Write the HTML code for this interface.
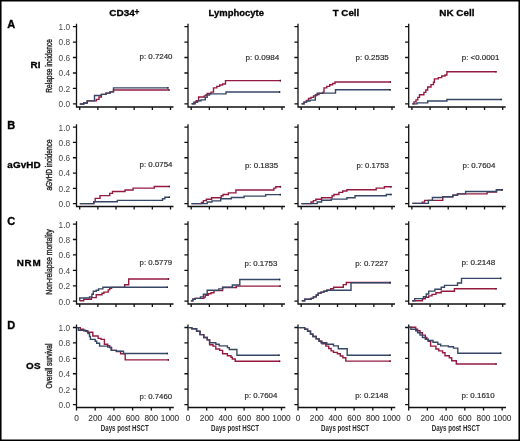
<!DOCTYPE html>
<html><head><meta charset="utf-8"><style>
html,body{margin:0;padding:0;background:#fff;overflow:hidden;}
svg{display:block;will-change:transform;}
text{font-family:"Liberation Sans", sans-serif;}
</style></head><body>
<svg width="520" height="441" viewBox="0 0 520 441">
<rect width="520" height="441" fill="#fff"/>
<rect x="0.75" y="0.7" width="518.5" height="439.6" fill="none" stroke="#000" stroke-width="1.6"/>
<text x="109.3" y="15.9" font-size="9.6" font-weight="bold" stroke="#000" stroke-width="0.3" textLength="25.5" lengthAdjust="spacingAndGlyphs">CD34</text>
<text x="208.6" y="15.9" font-size="9.6" font-weight="bold" stroke="#000" stroke-width="0.3" textLength="55.3" lengthAdjust="spacingAndGlyphs">Lymphocyte</text>
<text x="332.7" y="15.9" font-size="9.6" font-weight="bold" stroke="#000" stroke-width="0.3" textLength="26.6" lengthAdjust="spacingAndGlyphs">T Cell</text>
<text x="439.3" y="15.9" font-size="9.6" font-weight="bold" stroke="#000" stroke-width="0.3" textLength="35.2" lengthAdjust="spacingAndGlyphs">NK Cell</text>
<text x="134.5" y="14.6" font-size="8.4" font-weight="bold" stroke="#000" stroke-width="0.25">+</text>
<text x="7.3" y="27.7" font-size="11" font-weight="bold" stroke="#000" stroke-width="0.35">A</text>
<text x="7.3" y="128.5" font-size="11" font-weight="bold" stroke="#000" stroke-width="0.35">B</text>
<text x="7.3" y="225.2" font-size="11" font-weight="bold" stroke="#000" stroke-width="0.35">C</text>
<text x="7.3" y="328.8" font-size="11" font-weight="bold" stroke="#000" stroke-width="0.35">D</text>
<text x="30.6" y="67.8" font-size="9.9" font-weight="bold" stroke="#000" stroke-width="0.3" textLength="9.8" lengthAdjust="spacing">RI</text>
<text x="7.3" y="168.1" font-size="9.9" font-weight="bold" stroke="#000" stroke-width="0.3" textLength="33.4" lengthAdjust="spacing">aGvHD</text>
<text x="16.7" y="265.5" font-size="9.9" font-weight="bold" stroke="#000" stroke-width="0.3" textLength="24.0" lengthAdjust="spacing">NRM</text>
<text x="25.9" y="369.2" font-size="9.9" font-weight="bold" stroke="#000" stroke-width="0.3" textLength="14.8" lengthAdjust="spacing">OS</text>
<text transform="translate(52.3 65.9) rotate(-90)" x="0" y="0" font-size="8.6" text-anchor="middle" textLength="53.6" lengthAdjust="spacingAndGlyphs" fill="#2a2a2a" stroke="#2a2a2a" stroke-width="0.4">Relapse incidence</text>
<text transform="translate(52.3 165.0) rotate(-90)" x="0" y="0" font-size="8.6" text-anchor="middle" textLength="51.1" lengthAdjust="spacingAndGlyphs" fill="#2a2a2a" stroke="#2a2a2a" stroke-width="0.4">aGvHD incidence</text>
<text transform="translate(52.3 262.0) rotate(-90)" x="0" y="0" font-size="8.6" text-anchor="middle" textLength="65.3" lengthAdjust="spacingAndGlyphs" fill="#2a2a2a" stroke="#2a2a2a" stroke-width="0.4">Non-relapse mortality</text>
<text transform="translate(52.3 366.1) rotate(-90)" x="0" y="0" font-size="8.6" text-anchor="middle" textLength="44.9" lengthAdjust="spacingAndGlyphs" fill="#2a2a2a" stroke="#2a2a2a" stroke-width="0.4">Overall survival</text>
<text x="139.6" y="58.7" font-size="7.8" textLength="32.899999999999984" lengthAdjust="spacingAndGlyphs" fill="#2a2a2a" stroke="#2a2a2a" stroke-width="0.18">p: 0.7240</text>
<text x="245.6" y="59.7" font-size="7.8" textLength="33.80000000000002" lengthAdjust="spacingAndGlyphs" fill="#2a2a2a" stroke="#2a2a2a" stroke-width="0.18">p: 0.0984</text>
<text x="355.59999999999997" y="59.7" font-size="7.8" textLength="33.200000000000024" lengthAdjust="spacingAndGlyphs" fill="#2a2a2a" stroke="#2a2a2a" stroke-width="0.18">p: 0.2535</text>
<text x="461.8" y="59.7" font-size="7.8" textLength="37.6" lengthAdjust="spacingAndGlyphs" fill="#2a2a2a" stroke="#2a2a2a" stroke-width="0.18">p: &lt;0.0001</text>
<text x="139.6" y="167.0" font-size="7.8" textLength="32.899999999999984" lengthAdjust="spacingAndGlyphs" fill="#2a2a2a" stroke="#2a2a2a" stroke-width="0.18">p: 0.0754</text>
<text x="244.89999999999998" y="168.39999999999998" font-size="7.8" textLength="33.200000000000024" lengthAdjust="spacingAndGlyphs" fill="#2a2a2a" stroke="#2a2a2a" stroke-width="0.18">p: 0.1835</text>
<text x="356.5" y="168.0" font-size="7.8" textLength="32.29999999999999" lengthAdjust="spacingAndGlyphs" fill="#2a2a2a" stroke="#2a2a2a" stroke-width="0.18">p: 0.1753</text>
<text x="462.5" y="168.1" font-size="7.8" textLength="32.90000000000001" lengthAdjust="spacingAndGlyphs" fill="#2a2a2a" stroke="#2a2a2a" stroke-width="0.18">p: 0.7604</text>
<text x="139.6" y="265.0" font-size="7.8" textLength="32.50000000000001" lengthAdjust="spacingAndGlyphs" fill="#2a2a2a" stroke="#2a2a2a" stroke-width="0.18">p: 0.5779</text>
<text x="244.5" y="265.7" font-size="7.8" textLength="32.90000000000001" lengthAdjust="spacingAndGlyphs" fill="#2a2a2a" stroke="#2a2a2a" stroke-width="0.18">p: 0.1753</text>
<text x="355.2" y="265.5" font-size="7.8" textLength="32.90000000000001" lengthAdjust="spacingAndGlyphs" fill="#2a2a2a" stroke="#2a2a2a" stroke-width="0.18">p: 0.7227</text>
<text x="461.5" y="265.2" font-size="7.8" textLength="33.90000000000001" lengthAdjust="spacingAndGlyphs" fill="#2a2a2a" stroke="#2a2a2a" stroke-width="0.18">p: 0.2148</text>
<text x="139.6" y="399.3" font-size="7.8" textLength="32.50000000000001" lengthAdjust="spacingAndGlyphs" fill="#2a2a2a" stroke="#2a2a2a" stroke-width="0.18">p: 0.7460</text>
<text x="244.5" y="397.59999999999997" font-size="7.8" textLength="32.90000000000001" lengthAdjust="spacingAndGlyphs" fill="#2a2a2a" stroke="#2a2a2a" stroke-width="0.18">p: 0.7604</text>
<text x="355.2" y="397.59999999999997" font-size="7.8" textLength="32.90000000000001" lengthAdjust="spacingAndGlyphs" fill="#2a2a2a" stroke="#2a2a2a" stroke-width="0.18">p: 0.2148</text>
<text x="461.5" y="397.8" font-size="7.8" textLength="33.19999999999997" lengthAdjust="spacingAndGlyphs" fill="#2a2a2a" stroke="#2a2a2a" stroke-width="0.18">p: 0.1610</text>
<path d="M76.5 23.650000000000002V107.0H173.5M72.9 103.95H76.5M72.9 88.47H76.5M72.9 72.99H76.5M72.9 57.51H76.5M72.9 42.03H76.5M72.9 26.55H76.5M79.70 107.0v3M97.86 107.0v3M116.02 107.0v3M134.18 107.0v3M152.34 107.0v3M170.50 107.0v3" fill="none" stroke="#111" stroke-width="1.3"/>
<text x="70.1" y="107.35" font-size="8.3" text-anchor="end" fill="#4a4a4a">0.0</text>
<text x="70.1" y="91.87" font-size="8.3" text-anchor="end" fill="#4a4a4a">0.2</text>
<text x="70.1" y="76.39" font-size="8.3" text-anchor="end" fill="#4a4a4a">0.4</text>
<text x="70.1" y="60.91" font-size="8.3" text-anchor="end" fill="#4a4a4a">0.6</text>
<text x="70.1" y="45.43" font-size="8.3" text-anchor="end" fill="#4a4a4a">0.8</text>
<text x="70.1" y="29.95" font-size="8.3" text-anchor="end" fill="#4a4a4a">1.0</text>
<path d="M188.0 23.650000000000002V107.0H285.0M184.4 103.95H188.0M184.4 88.47H188.0M184.4 72.99H188.0M184.4 57.51H188.0M184.4 42.03H188.0M184.4 26.55H188.0M191.20 107.0v3M209.36 107.0v3M227.52 107.0v3M245.68 107.0v3M263.84 107.0v3M282.00 107.0v3" fill="none" stroke="#111" stroke-width="1.3"/>
<path d="M298.0 23.650000000000002V107.0H395.0M294.4 103.95H298.0M294.4 88.47H298.0M294.4 72.99H298.0M294.4 57.51H298.0M294.4 42.03H298.0M294.4 26.55H298.0M301.20 107.0v3M319.36 107.0v3M337.52 107.0v3M355.68 107.0v3M373.84 107.0v3M392.00 107.0v3" fill="none" stroke="#111" stroke-width="1.3"/>
<path d="M408.7 23.650000000000002V107.0H505.7M405.09999999999997 103.95H408.7M405.09999999999997 88.47H408.7M405.09999999999997 72.99H408.7M405.09999999999997 57.51H408.7M405.09999999999997 42.03H408.7M405.09999999999997 26.55H408.7M411.90 107.0v3M430.06 107.0v3M448.22 107.0v3M466.38 107.0v3M484.54 107.0v3M502.70 107.0v3" fill="none" stroke="#111" stroke-width="1.3"/>
<path d="M76.5 124.19999999999999V206.5H173.5M72.9 203.70H76.5M72.9 188.38H76.5M72.9 173.06H76.5M72.9 157.74H76.5M72.9 142.42H76.5M72.9 127.10H76.5M79.70 206.5v3M97.86 206.5v3M116.02 206.5v3M134.18 206.5v3M152.34 206.5v3M170.50 206.5v3" fill="none" stroke="#111" stroke-width="1.3"/>
<text x="70.1" y="207.10" font-size="8.3" text-anchor="end" fill="#4a4a4a">0.0</text>
<text x="70.1" y="191.78" font-size="8.3" text-anchor="end" fill="#4a4a4a">0.2</text>
<text x="70.1" y="176.46" font-size="8.3" text-anchor="end" fill="#4a4a4a">0.4</text>
<text x="70.1" y="161.14" font-size="8.3" text-anchor="end" fill="#4a4a4a">0.6</text>
<text x="70.1" y="145.82" font-size="8.3" text-anchor="end" fill="#4a4a4a">0.8</text>
<text x="70.1" y="130.50" font-size="8.3" text-anchor="end" fill="#4a4a4a">1.0</text>
<path d="M188.0 124.19999999999999V206.5H285.0M184.4 203.70H188.0M184.4 188.38H188.0M184.4 173.06H188.0M184.4 157.74H188.0M184.4 142.42H188.0M184.4 127.10H188.0M191.20 206.5v3M209.36 206.5v3M227.52 206.5v3M245.68 206.5v3M263.84 206.5v3M282.00 206.5v3" fill="none" stroke="#111" stroke-width="1.3"/>
<path d="M298.0 124.19999999999999V206.5H395.0M294.4 203.70H298.0M294.4 188.38H298.0M294.4 173.06H298.0M294.4 157.74H298.0M294.4 142.42H298.0M294.4 127.10H298.0M301.20 206.5v3M319.36 206.5v3M337.52 206.5v3M355.68 206.5v3M373.84 206.5v3M392.00 206.5v3" fill="none" stroke="#111" stroke-width="1.3"/>
<path d="M408.7 124.19999999999999V206.5H505.7M405.09999999999997 203.70H408.7M405.09999999999997 188.38H408.7M405.09999999999997 173.06H408.7M405.09999999999997 157.74H408.7M405.09999999999997 142.42H408.7M405.09999999999997 127.10H408.7M411.90 206.5v3M430.06 206.5v3M448.22 206.5v3M466.38 206.5v3M484.54 206.5v3M502.70 206.5v3" fill="none" stroke="#111" stroke-width="1.3"/>
<path d="M76.5 221.2V304.0H173.5M72.9 301.20H76.5M72.9 285.78H76.5M72.9 270.36H76.5M72.9 254.94H76.5M72.9 239.52H76.5M72.9 224.10H76.5M79.70 304.0v3M97.86 304.0v3M116.02 304.0v3M134.18 304.0v3M152.34 304.0v3M170.50 304.0v3" fill="none" stroke="#111" stroke-width="1.3"/>
<text x="70.1" y="304.60" font-size="8.3" text-anchor="end" fill="#4a4a4a">0.0</text>
<text x="70.1" y="289.18" font-size="8.3" text-anchor="end" fill="#4a4a4a">0.2</text>
<text x="70.1" y="273.76" font-size="8.3" text-anchor="end" fill="#4a4a4a">0.4</text>
<text x="70.1" y="258.34" font-size="8.3" text-anchor="end" fill="#4a4a4a">0.6</text>
<text x="70.1" y="242.92" font-size="8.3" text-anchor="end" fill="#4a4a4a">0.8</text>
<text x="70.1" y="227.50" font-size="8.3" text-anchor="end" fill="#4a4a4a">1.0</text>
<path d="M188.0 221.2V304.0H285.0M184.4 301.20H188.0M184.4 285.78H188.0M184.4 270.36H188.0M184.4 254.94H188.0M184.4 239.52H188.0M184.4 224.10H188.0M191.20 304.0v3M209.36 304.0v3M227.52 304.0v3M245.68 304.0v3M263.84 304.0v3M282.00 304.0v3" fill="none" stroke="#111" stroke-width="1.3"/>
<path d="M298.0 221.2V304.0H395.0M294.4 301.20H298.0M294.4 285.78H298.0M294.4 270.36H298.0M294.4 254.94H298.0M294.4 239.52H298.0M294.4 224.10H298.0M301.20 304.0v3M319.36 304.0v3M337.52 304.0v3M355.68 304.0v3M373.84 304.0v3M392.00 304.0v3" fill="none" stroke="#111" stroke-width="1.3"/>
<path d="M408.7 221.2V304.0H505.7M405.09999999999997 301.20H408.7M405.09999999999997 285.78H408.7M405.09999999999997 270.36H408.7M405.09999999999997 254.94H408.7M405.09999999999997 239.52H408.7M405.09999999999997 224.10H408.7M411.90 304.0v3M430.06 304.0v3M448.22 304.0v3M466.38 304.0v3M484.54 304.0v3M502.70 304.0v3" fill="none" stroke="#111" stroke-width="1.3"/>
<path d="M76.5 324.6V410.5M76.5 407.5H173.8M72.9 404.60H76.5M72.9 389.18H76.5M72.9 373.76H76.5M72.9 358.34H76.5M72.9 342.92H76.5M72.9 327.50H76.5M95.20 407.5v3M113.90 407.5v3M132.60 407.5v3M151.30 407.5v3M170.00 407.5v3" fill="none" stroke="#111" stroke-width="1.3"/>
<text x="70.1" y="408.00" font-size="8.3" text-anchor="end" fill="#4a4a4a">0.0</text>
<text x="70.1" y="392.58" font-size="8.3" text-anchor="end" fill="#4a4a4a">0.2</text>
<text x="70.1" y="377.16" font-size="8.3" text-anchor="end" fill="#4a4a4a">0.4</text>
<text x="70.1" y="361.74" font-size="8.3" text-anchor="end" fill="#4a4a4a">0.6</text>
<text x="70.1" y="346.32" font-size="8.3" text-anchor="end" fill="#4a4a4a">0.8</text>
<text x="70.1" y="330.90" font-size="8.3" text-anchor="end" fill="#4a4a4a">1.0</text>
<text x="76.50" y="420.7" font-size="8.3" text-anchor="middle" fill="#333" stroke="#333" stroke-width="0.08">0</text>
<text x="95.20" y="420.7" font-size="8.3" text-anchor="middle" fill="#333" stroke="#333" stroke-width="0.08">200</text>
<text x="113.90" y="420.7" font-size="8.3" text-anchor="middle" fill="#333" stroke="#333" stroke-width="0.08">400</text>
<text x="132.60" y="420.7" font-size="8.3" text-anchor="middle" fill="#333" stroke="#333" stroke-width="0.08">600</text>
<text x="151.30" y="420.7" font-size="8.3" text-anchor="middle" fill="#333" stroke="#333" stroke-width="0.08">800</text>
<text x="170.00" y="420.7" font-size="8.3" text-anchor="middle" fill="#333" stroke="#333" stroke-width="0.08">1000</text>
<text x="124.75" y="430.8" font-size="8.4" font-weight="bold" text-anchor="middle" textLength="48" lengthAdjust="spacingAndGlyphs" fill="#2a2a2a">Days post HSCT</text>
<path d="M188.0 324.6V410.5M188.0 407.5H285.3M184.4 404.60H188.0M184.4 389.18H188.0M184.4 373.76H188.0M184.4 358.34H188.0M184.4 342.92H188.0M184.4 327.50H188.0M206.70 407.5v3M225.40 407.5v3M244.10 407.5v3M262.80 407.5v3M281.50 407.5v3" fill="none" stroke="#111" stroke-width="1.3"/>
<text x="188.00" y="420.7" font-size="8.3" text-anchor="middle" fill="#333" stroke="#333" stroke-width="0.08">0</text>
<text x="206.70" y="420.7" font-size="8.3" text-anchor="middle" fill="#333" stroke="#333" stroke-width="0.08">200</text>
<text x="225.40" y="420.7" font-size="8.3" text-anchor="middle" fill="#333" stroke="#333" stroke-width="0.08">400</text>
<text x="244.10" y="420.7" font-size="8.3" text-anchor="middle" fill="#333" stroke="#333" stroke-width="0.08">600</text>
<text x="262.80" y="420.7" font-size="8.3" text-anchor="middle" fill="#333" stroke="#333" stroke-width="0.08">800</text>
<text x="281.50" y="420.7" font-size="8.3" text-anchor="middle" fill="#333" stroke="#333" stroke-width="0.08">1000</text>
<text x="235.0" y="430.8" font-size="8.4" font-weight="bold" text-anchor="middle" textLength="48" lengthAdjust="spacingAndGlyphs" fill="#2a2a2a">Days post HSCT</text>
<path d="M298.0 324.6V410.5M298.0 407.5H395.3M294.4 404.60H298.0M294.4 389.18H298.0M294.4 373.76H298.0M294.4 358.34H298.0M294.4 342.92H298.0M294.4 327.50H298.0M316.70 407.5v3M335.40 407.5v3M354.10 407.5v3M372.80 407.5v3M391.50 407.5v3" fill="none" stroke="#111" stroke-width="1.3"/>
<text x="298.00" y="420.7" font-size="8.3" text-anchor="middle" fill="#333" stroke="#333" stroke-width="0.08">0</text>
<text x="316.70" y="420.7" font-size="8.3" text-anchor="middle" fill="#333" stroke="#333" stroke-width="0.08">200</text>
<text x="335.40" y="420.7" font-size="8.3" text-anchor="middle" fill="#333" stroke="#333" stroke-width="0.08">400</text>
<text x="354.10" y="420.7" font-size="8.3" text-anchor="middle" fill="#333" stroke="#333" stroke-width="0.08">600</text>
<text x="372.80" y="420.7" font-size="8.3" text-anchor="middle" fill="#333" stroke="#333" stroke-width="0.08">800</text>
<text x="391.50" y="420.7" font-size="8.3" text-anchor="middle" fill="#333" stroke="#333" stroke-width="0.08">1000</text>
<text x="345.1" y="430.8" font-size="8.4" font-weight="bold" text-anchor="middle" textLength="48" lengthAdjust="spacingAndGlyphs" fill="#2a2a2a">Days post HSCT</text>
<path d="M408.7 324.6V410.5M408.7 407.5H506.0M405.09999999999997 404.60H408.7M405.09999999999997 389.18H408.7M405.09999999999997 373.76H408.7M405.09999999999997 358.34H408.7M405.09999999999997 342.92H408.7M405.09999999999997 327.50H408.7M427.40 407.5v3M446.10 407.5v3M464.80 407.5v3M483.50 407.5v3M502.20 407.5v3" fill="none" stroke="#111" stroke-width="1.3"/>
<text x="408.70" y="420.7" font-size="8.3" text-anchor="middle" fill="#333" stroke="#333" stroke-width="0.08">0</text>
<text x="427.40" y="420.7" font-size="8.3" text-anchor="middle" fill="#333" stroke="#333" stroke-width="0.08">200</text>
<text x="446.10" y="420.7" font-size="8.3" text-anchor="middle" fill="#333" stroke="#333" stroke-width="0.08">400</text>
<text x="464.80" y="420.7" font-size="8.3" text-anchor="middle" fill="#333" stroke="#333" stroke-width="0.08">600</text>
<text x="483.50" y="420.7" font-size="8.3" text-anchor="middle" fill="#333" stroke="#333" stroke-width="0.08">800</text>
<text x="502.20" y="420.7" font-size="8.3" text-anchor="middle" fill="#333" stroke="#333" stroke-width="0.08">1000</text>
<text x="455.7" y="430.8" font-size="8.4" font-weight="bold" text-anchor="middle" textLength="48" lengthAdjust="spacingAndGlyphs" fill="#2a2a2a">Days post HSCT</text>
<path d="M79.8 103.6H83.7V102.6H87.2V100.5H96.4V99H99V96.7H101.4V94H106V92.8H110V91.5H113.5V89.7H169.6" fill="none" stroke="#951A40" stroke-width="1.4" transform="translate(0 0.35)"/>
<path d="M168.30 89.70H169.60" stroke="#5a1530" stroke-width="1.5999999999999999" transform="translate(0 0.35)"/>
<path d="M79.8 103.6H83.7V102.6H87.2V100.5H94.5V95.2H101.4V94H106V92.8H110V91.5H113.5V87.5H168.5" fill="none" stroke="#364766" stroke-width="1.4" transform="translate(0 0.35)"/>
<path d="M167.20 87.50H168.50" stroke="#1e2a3a" stroke-width="1.5999999999999999" transform="translate(0 0.35)"/>
<path d="M191.6 103.4H193.8V101.9H196.2V100.4H198.6V96.6H204.3V95.5H205.8V94.7H207.2V93.2H211V91.8H213.5V87.5H216.8V86H219.7V84.6H222.6V83.6H225.5V80.25H281" fill="none" stroke="#951A40" stroke-width="1.4" transform="translate(0 0.35)"/>
<path d="M279.70 80.25H281.00" stroke="#5a1530" stroke-width="1.5999999999999999" transform="translate(0 0.35)"/>
<path d="M191.6 103.4H195.2V101.9H197.6V100.4H201V99.5H205.3V97H207.2V94.7H209.6V93.5H226V91.7H280.2" fill="none" stroke="#364766" stroke-width="1.4" transform="translate(0 0.35)"/>
<path d="M278.90 91.70H280.20" stroke="#1e2a3a" stroke-width="1.5999999999999999" transform="translate(0 0.35)"/>
<path d="M301.6 103.4H304V101.8H306.5V100H308.5V98H311V97H313.5V95.5H316V94.3H319V93H323V91.8H324V87.5H326.8V86H329.7V84.4H332.6V83.1H335V81.7H391" fill="none" stroke="#951A40" stroke-width="1.4" transform="translate(0 0.35)"/>
<path d="M389.70 81.70H391.00" stroke="#5a1530" stroke-width="1.5999999999999999" transform="translate(0 0.35)"/>
<path d="M301.6 103.4H304V101.8H306.5V100.6H310V99.8H315.3V94.7H317.2V92.75H335.5V89.4H390.7" fill="none" stroke="#364766" stroke-width="1.4" transform="translate(0 0.35)"/>
<path d="M389.40 89.40H390.70" stroke="#1e2a3a" stroke-width="1.5999999999999999" transform="translate(0 0.35)"/>
<path d="M412.3 103.5H414V101.5H416V99.5H417.8V97H419.5V94.4H423.9V92H425.8V89.6H427.7V86.7H431V84.3H433.5V81.9H434.4V78.5H438.3V77.3H441.7V75.6H445V74.7H446.9V71.4H496.6" fill="none" stroke="#951A40" stroke-width="1.4" transform="translate(0 0.35)"/>
<path d="M495.30 71.40H496.60" stroke="#5a1530" stroke-width="1.5999999999999999" transform="translate(0 0.35)"/>
<path d="M412.3 103.5H417.1V102.5H427.7V100.6H446.9V99.2H501.7" fill="none" stroke="#364766" stroke-width="1.4" transform="translate(0 0.35)"/>
<path d="M500.40 99.20H501.70" stroke="#1e2a3a" stroke-width="1.5999999999999999" transform="translate(0 0.35)"/>
<path d="M79.8 203.6H93.8V201.6H95.2V198.4H100V195.6H109.7V193.4H112.5V191.5H125V190H133.1V188.1H154.3V186.5H170" fill="none" stroke="#951A40" stroke-width="1.4"/>
<path d="M168.70 186.50H170.00" stroke="#5a1530" stroke-width="1.5999999999999999"/>
<path d="M79.8 203.6H93.8V201.8H117.3V200.4H162.5V198.7H164.9V197.2H170" fill="none" stroke="#364766" stroke-width="1.4"/>
<path d="M168.70 197.20H170.00" stroke="#1e2a3a" stroke-width="1.5999999999999999"/>
<path d="M191.4 203.6H201.5V202.5H203.4V200.6H206.3V199.3H211.6V197.7H221.2V195.8H223.1V194.5H228.4V192.9H235.9V190H273.9V188.1H275.8V186.7H281.1" fill="none" stroke="#951A40" stroke-width="1.4"/>
<path d="M279.80 186.70H281.10" stroke="#5a1530" stroke-width="1.5999999999999999"/>
<path d="M191.4 203.6H207.2V202H212V200.9H220.7V198.7H231.3V197.5H244.1V196.1H265.7V194.6H280.9" fill="none" stroke="#364766" stroke-width="1.4"/>
<path d="M279.60 194.60H280.90" stroke="#1e2a3a" stroke-width="1.5999999999999999"/>
<path d="M301.4 203.6H311V202H313.4V200.6H315.8V199.2H321.6V197.7H332.1V195.8H334V194.5H338.9V192.4H342.7V191H346.9V189.7H376.2V188.1H384.4V186.8H391.6" fill="none" stroke="#951A40" stroke-width="1.4"/>
<path d="M390.30 186.80H391.60" stroke="#5a1530" stroke-width="1.5999999999999999"/>
<path d="M301.4 203.6H317.2V202H321.6V200.3H331.2V199.1H346.9V197.7H355V195.8H386.3V194.5H391.6" fill="none" stroke="#364766" stroke-width="1.4"/>
<path d="M390.30 194.50H391.60" stroke="#1e2a3a" stroke-width="1.5999999999999999"/>
<path d="M412.3 203.4H422.3V202.1H424.6V200.4H442.7V196.8H452.8V195.2H457.5V193.9H487.1V192.1H496.5V189.8H502.6" fill="none" stroke="#951A40" stroke-width="1.4"/>
<path d="M501.30 189.80H502.60" stroke="#5a1530" stroke-width="1.5999999999999999"/>
<path d="M412.3 203.4H428.4V200.4H432.4V197.5H442.7V196.8H452.8V195.2H457.5V193.9H465.6V191.5H496.5V189.8H502.6" fill="none" stroke="#364766" stroke-width="1.4"/>
<path d="M501.30 189.80H502.60" stroke="#1e2a3a" stroke-width="1.5999999999999999"/>
<path d="M79.7 300.8H83.7V299.2H91.4V297.6H96.2V294.7H102V293.2H103.9V292.1H108.2V289.9H109.7V288.4H111.6V287.4H124.7V284.8H128.7V279H169.1" fill="none" stroke="#951A40" stroke-width="1.4"/>
<path d="M167.80 279.00H169.10" stroke="#5a1530" stroke-width="1.5999999999999999"/>
<path d="M79.7 300.8V298H89.5V296.9H91.9V294.2H93.3V291.3H96.2V290.3H98.6V288.9H102.9V287.3H167.9" fill="none" stroke="#364766" stroke-width="1.4"/>
<path d="M166.60 287.30H167.90" stroke="#1e2a3a" stroke-width="1.5999999999999999"/>
<path d="M190.9 300.8H192.8V299.2H195.2V298.4H203.9V297.1H205.3V295.2H208.2V293.7H211V292.8H214V290.6H222.6V287.5H236.3V286.1H280.7" fill="none" stroke="#951A40" stroke-width="1.4"/>
<path d="M279.40 286.10H280.70" stroke="#5a1530" stroke-width="1.5999999999999999"/>
<path d="M190.9 300.8H192.8V299.2H195.2V298.4H200.5V296.9H203.4V294.2H207.2V290.3H218.8V288.9H222.6V287.2H232.3V285H239.8V279.5H280.2" fill="none" stroke="#364766" stroke-width="1.4"/>
<path d="M278.90 279.50H280.20" stroke="#1e2a3a" stroke-width="1.5999999999999999"/>
<path d="M301.8 300.7H304.7V299.3H311V298.4H313.4V296.9H316.3V295H318.2V293.1H321.1V292.1H324V291.2H326.8V290.2H330.7V288.8H333.6V287.3H343.3V284.6H346.3V282.5H390.7" fill="none" stroke="#951A40" stroke-width="1.4"/>
<path d="M389.40 282.50H390.70" stroke="#5a1530" stroke-width="1.5999999999999999"/>
<path d="M301.8 300.7H304.7V299.3H311V298.4H313.4V296.9H316.3V295H318.2V293.1H321.1V292.1H324V291.2H326.8V290.2H351V282.7H390.7" fill="none" stroke="#364766" stroke-width="1.4"/>
<path d="M389.40 282.70H390.70" stroke="#1e2a3a" stroke-width="1.5999999999999999"/>
<path d="M412.3 300.7H422.4V298.8H425.3V297.3H428.7V295.9H432V294.4H435.9V292.8H441.2V291.2H454.4V288.8H496.7" fill="none" stroke="#951A40" stroke-width="1.4"/>
<path d="M495.40 288.80H496.70" stroke="#5a1530" stroke-width="1.5999999999999999"/>
<path d="M412.3 300.7H414.7V298.6H423.4V296.8H426.3V294H428.7V291.1H434.9V289.2H441.2V287.2H444.5V285.4H457.5V283H461.5V278.4H501.3" fill="none" stroke="#364766" stroke-width="1.4"/>
<path d="M500.00 278.40H501.30" stroke="#1e2a3a" stroke-width="1.5999999999999999"/>
<path d="M76.8 327.6H80.3V329.3H83.7V330.7H87.5V332.2H92.8V336H98.1V338.4H101V339.4H104.4V344.2H107.7V345.6H109.7V347.6H111.6V350.4H116.4V351.5H120.6V353.8H125.2V359.9H169" fill="none" stroke="#951A40" stroke-width="1.4"/>
<path d="M167.70 359.90H169.00" stroke="#5a1530" stroke-width="1.5999999999999999"/>
<path d="M76.8 327.6H78.4V330.2H85.6V331.2H88V333.6H89.5V336.5H90.4V339.4H95.2V341.3H96.7V343.2H99.6V346.1H107.7V347.1H111.1V350.4H116.4V351.2H123.5V353.5H167.9" fill="none" stroke="#364766" stroke-width="1.4"/>
<path d="M166.60 353.50H167.90" stroke="#1e2a3a" stroke-width="1.5999999999999999"/>
<path d="M188 327.6H191.8V328.8H196.6V331.2H200V334.6H203.8V337.5H207.2V339.9H209.6V344.7H213V346.1H215.8V349H219.7V350.4H222.6V353.8H227.4V355.7H231V357.2H232.3V359H235.2V361.3H280.2" fill="none" stroke="#951A40" stroke-width="1.4"/>
<path d="M278.90 361.30H280.20" stroke="#5a1530" stroke-width="1.5999999999999999"/>
<path d="M188 327.6H191.8V328.8H196.6V331.2H200V334.6H203.8V337.5H207.2V339.9H209.6V342.8H215.8V344.2H219.2V345.9H227.4V347.6H229.3V349.5H236.9V355.2H279.6" fill="none" stroke="#364766" stroke-width="1.4"/>
<path d="M278.30 355.20H279.60" stroke="#1e2a3a" stroke-width="1.5999999999999999"/>
<path d="M298 327.6H304.7V329.3H307.6V331.2H310.5V334.1H312.9V336.5H316.2V338.9H319.1V341.3H322V343.7H325.8V346.1H328.7V348.5H331.1V350.9H333.5V352.4H337.4V353.8H340.3V356H342.9V357.8H345.8V361.1H390.7" fill="none" stroke="#951A40" stroke-width="1.4"/>
<path d="M389.40 361.10H390.70" stroke="#5a1530" stroke-width="1.5999999999999999"/>
<path d="M298 327.6H304.7V329.3H307.6V331.2H310.5V334.1H312.9V336.5H316.2V338.9H319.1V341.3H321V342.8H326.8V344.2H333.5V345.9H338.3V348.7H347.2V355.2H390.7" fill="none" stroke="#364766" stroke-width="1.4"/>
<path d="M389.40 355.20H390.70" stroke="#1e2a3a" stroke-width="1.5999999999999999"/>
<path d="M408.7 327.3H415.7V329.3H417.6V330.7H420V332.7H422.4V335.1H425.3V337.5H426.8V339.4H428.2V341.3H430.6V346.1H435.9V349H438.8V350.9H442.6V352.8H445V355.7H449.3V357.7H451.7V360.8H456.3V364H496.7" fill="none" stroke="#951A40" stroke-width="1.4"/>
<path d="M495.40 364.00H496.70" stroke="#5a1530" stroke-width="1.5999999999999999"/>
<path d="M408.7 327.3H410.9V329.3H415.7V330.7H417.6V332.7H420V335.1H422.4V337.5H425.3V339.2H428.2V340.5H433V342.3H437.8V344.2H440.7V345.9H448.4V346.8H453.5V348.1H457.8V353.3H501.3" fill="none" stroke="#364766" stroke-width="1.4"/>
<path d="M500.00 353.30H501.30" stroke="#1e2a3a" stroke-width="1.5999999999999999"/>
</svg>
</body></html>
